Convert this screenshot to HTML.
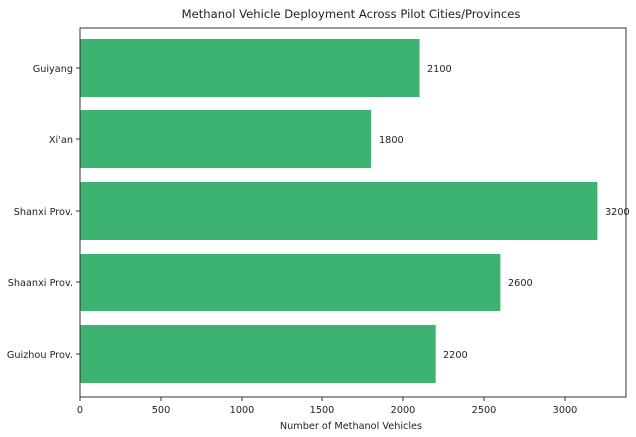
<!DOCTYPE html>
<html><head><style>
body{margin:0;background:#fff;}
svg{display:block;font-family:"DejaVu Sans","Liberation Sans",sans-serif;}
</style></head><body>
<svg width="636" height="437" xmlns="http://www.w3.org/2000/svg">
<rect width="636" height="437" fill="#fff"/>
<text x="351" y="18" font-size="11.6" text-anchor="middle" fill="#222">Methanol Vehicle Deployment Across Pilot Cities/Provinces</text>
<g fill="#3cb371">
<rect x="80" y="39" width="339.6" height="58"/>
<rect x="80" y="110" width="291.1" height="58"/>
<rect x="80" y="182" width="517.4" height="58"/>
<rect x="80" y="254" width="420.4" height="57"/>
<rect x="80" y="325" width="355.7" height="58"/>
</g>
<rect x="80" y="28" width="546" height="369" fill="none" stroke="#333" stroke-width="1"/>
<g font-size="9.7" fill="#222">
<text x="427" y="72">2100</text>
<text x="379" y="143">1800</text>
<text x="605" y="215">3200</text>
<text x="508" y="286">2600</text>
<text x="443" y="358">2200</text>
</g>
<g font-size="9.7" fill="#222" text-anchor="end">
<text x="73" y="72">Guiyang</text>
<text x="73" y="143">Xi'an</text>
<text x="73" y="215">Shanxi Prov.</text>
<text x="73" y="286">Shaanxi Prov.</text>
<text x="73" y="358">Guizhou Prov.</text>
</g>
<g stroke="#333">
<line x1="76" x2="80" y1="68" y2="68"/><line x1="76" x2="80" y1="139" y2="139"/>
<line x1="76" x2="80" y1="211" y2="211"/><line x1="76" x2="80" y1="282" y2="282"/>
<line x1="76" x2="80" y1="354" y2="354"/>
<line x1="80" x2="80" y1="397" y2="401"/><line x1="161" x2="161" y1="397" y2="401"/>
<line x1="242" x2="242" y1="397" y2="401"/><line x1="322" x2="322" y1="397" y2="401"/>
<line x1="403" x2="403" y1="397" y2="401"/><line x1="484" x2="484" y1="397" y2="401"/>
<line x1="565" x2="565" y1="397" y2="401"/>
</g>
<g font-size="9.7" fill="#222" text-anchor="middle">
<text x="80" y="413">0</text><text x="161" y="413">500</text><text x="242" y="413">1000</text>
<text x="322" y="413">1500</text><text x="403" y="413">2000</text><text x="484" y="413">2500</text>
<text x="565" y="413">3000</text>
<text x="351" y="429">Number of Methanol Vehicles</text>
</g>
</svg>
</body></html>
